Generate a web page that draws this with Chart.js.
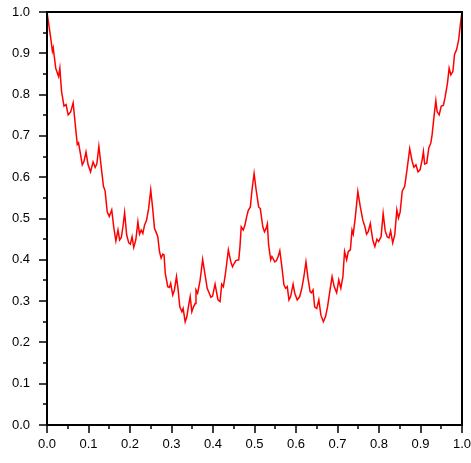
<!DOCTYPE html>
<html lang="en">
<head>
    <meta charset="UTF-8">
    <title>Curve</title>
    <script src="https://cdn.jsdelivr.net/npm/chart.js@4"></script>
    <style>
        html, body {
            margin: 0;
            padding: 0;
            background: #fff;
        }
        #wrap {
            width: 471px;
            height: 463px;
        }
    </style>
</head>
<body>
    <div id="wrap"><canvas id="curve"></canvas></div>

    <script>
        // values
        const xs = [
            0.000, 0.009, 0.013, 0.015, 0.021, 0.025, 0.028, 0.031, 0.035, 0.041,
            0.046, 0.051, 0.057, 0.063, 0.069, 0.073, 0.076, 0.081, 0.085, 0.089,
            0.094, 0.099, 0.105, 0.111, 0.116, 0.120, 0.125, 0.131, 0.136, 0.140,
            0.145, 0.150, 0.156, 0.161, 0.166, 0.171, 0.175, 0.179, 0.183, 0.187,
            0.192, 0.197, 0.201, 0.205, 0.209, 0.214, 0.219, 0.223, 0.227, 0.231,
            0.235, 0.240, 0.245, 0.250, 0.255, 0.259, 0.264, 0.267, 0.271, 0.275,
            0.279, 0.282, 0.285, 0.291, 0.295, 0.298, 0.303, 0.307, 0.312, 0.316,
            0.320, 0.325, 0.328, 0.333, 0.337, 0.340, 0.345, 0.349, 0.353, 0.357,
            0.359, 0.363, 0.369, 0.375, 0.381, 0.386, 0.391, 0.395, 0.399, 0.405,
            0.409, 0.412, 0.417, 0.421, 0.425, 0.429, 0.433, 0.437, 0.443, 0.447,
            0.451, 0.455, 0.462, 0.465, 0.468, 0.473, 0.477, 0.481, 0.485, 0.490,
            0.494, 0.499, 0.504, 0.510, 0.514, 0.520, 0.524, 0.528, 0.531, 0.534,
            0.539, 0.542, 0.549, 0.553, 0.557, 0.561, 0.566, 0.571, 0.575, 0.579,
            0.583, 0.587, 0.593, 0.597, 0.603, 0.609, 0.614, 0.619, 0.624, 0.629,
            0.634, 0.637, 0.641, 0.645, 0.650, 0.655, 0.660, 0.666, 0.671, 0.676,
            0.682, 0.687, 0.692, 0.698, 0.703, 0.708, 0.713, 0.717, 0.722, 0.726,
            0.731, 0.735, 0.738, 0.743, 0.749, 0.755, 0.761, 0.766, 0.770, 0.774,
            0.779, 0.785, 0.790, 0.795, 0.799, 0.805, 0.810, 0.815, 0.820, 0.824,
            0.828, 0.833, 0.838, 0.843, 0.847, 0.851, 0.856, 0.862, 0.868, 0.874,
            0.880, 0.884, 0.889, 0.894, 0.899, 0.904, 0.907, 0.910, 0.915, 0.920,
            0.925, 0.928, 0.933, 0.937, 0.940, 0.945, 0.950, 0.955, 0.959, 0.965,
            0.969, 0.973, 0.978, 0.982, 0.987, 0.992, 0.997, 1.000
        ];
        const ys = [
            1.000, 0.937, 0.905, 0.913, 0.864, 0.852, 0.844, 0.864, 0.808, 0.772,
            0.776, 0.751, 0.758, 0.780, 0.719, 0.679, 0.683, 0.654, 0.630, 0.638,
            0.661, 0.630, 0.613, 0.637, 0.624, 0.632, 0.675, 0.622, 0.578, 0.567,
            0.517, 0.505, 0.521, 0.478, 0.446, 0.472, 0.448, 0.454, 0.480, 0.514,
            0.460, 0.441, 0.438, 0.456, 0.430, 0.448, 0.492, 0.462, 0.472, 0.464,
            0.484, 0.496, 0.525, 0.569, 0.521, 0.476, 0.464, 0.456, 0.420, 0.404,
            0.414, 0.412, 0.367, 0.335, 0.333, 0.343, 0.315, 0.327, 0.359, 0.327,
            0.286, 0.274, 0.282, 0.250, 0.262, 0.282, 0.311, 0.274, 0.286, 0.294,
            0.327, 0.319, 0.351, 0.401, 0.363, 0.331, 0.319, 0.309, 0.312, 0.341,
            0.319, 0.303, 0.299, 0.341, 0.335, 0.359, 0.391, 0.424, 0.395, 0.383,
            0.391, 0.398, 0.400, 0.432, 0.480, 0.472, 0.484, 0.504, 0.520, 0.528,
            0.569, 0.609, 0.569, 0.528, 0.524, 0.480, 0.468, 0.476, 0.487, 0.436,
            0.400, 0.408, 0.395, 0.398, 0.408, 0.422, 0.383, 0.339, 0.331, 0.335,
            0.303, 0.311, 0.341, 0.319, 0.303, 0.311, 0.331, 0.359, 0.395, 0.355,
            0.323, 0.320, 0.327, 0.286, 0.282, 0.303, 0.266, 0.250, 0.262, 0.286,
            0.327, 0.359, 0.335, 0.320, 0.351, 0.331, 0.359, 0.420, 0.400, 0.420,
            0.424, 0.472, 0.462, 0.504, 0.565, 0.528, 0.496, 0.480, 0.462, 0.468,
            0.488, 0.448, 0.432, 0.450, 0.444, 0.456, 0.512, 0.470, 0.455, 0.453,
            0.470, 0.441, 0.461, 0.521, 0.501, 0.516, 0.566, 0.578, 0.622, 0.669,
            0.638, 0.624, 0.630, 0.613, 0.618, 0.642, 0.662, 0.632, 0.634, 0.671,
            0.683, 0.703, 0.751, 0.785, 0.759, 0.751, 0.772, 0.774, 0.792, 0.828,
            0.864, 0.848, 0.856, 0.897, 0.909, 0.933, 0.978, 1.000
        ];
        const tickValues = [0, 0.1, 0.2, 0.3, 0.4, 0.5, 0.6, 0.7, 0.8, 0.9, 1.0];

        const points = xs.map((x, i) => ({ x: x, y: ys[i] }));

        // frame round the plot plus major/minor tick marks on both axes
        const frameAndTicks = {
            id: 'frameAndTicks',
            afterDraw(chart) {
                const ctx = chart.ctx;
                const a = chart.chartArea;
                const sx = chart.scales.x;
                const sy = chart.scales.y;
                ctx.save();
                ctx.strokeStyle = '#000';
                ctx.lineWidth = 2;
                ctx.strokeRect(a.left, a.top, a.right - a.left, a.bottom - a.top);
                ctx.lineWidth = 1.5;
                ctx.beginPath();
                for (let i = 0; i <= 20; i++) {
                    const v = i * 0.05;
                    const len = i % 2 ? 4 : 8;
                    const px = Math.round(sx.getPixelForValue(v));
                    ctx.moveTo(px, a.bottom);
                    ctx.lineTo(px, a.bottom + len);
                    const py = Math.round(sy.getPixelForValue(v));
                    ctx.moveTo(a.left, py);
                    ctx.lineTo(a.left - len, py);
                }
                ctx.stroke();
                ctx.restore();
            }
        };

        new Chart(document.getElementById('curve'), {
            type: 'line',
            data: {
                datasets: [{
                    data: points,
                    borderColor: '#ff0000',
                    borderWidth: 1.5,
                    pointRadius: 0,
                    tension: 0,
                    fill: false
                }]
            },
            options: {
                responsive: true,
                maintainAspectRatio: false,
                animation: false,
                layout: {
                    padding: { top: 12, right: 9, left: 0, bottom: 0 }
                },
                plugins: {
                    legend: { display: false },
                    tooltip: { enabled: false }
                },
                scales: {
                    x: {
                        type: 'linear',
                        min: 0,
                        max: 1,
                        afterFit: s => {
                            s.height = 38;
                            s.paddingLeft = 0;
                            s.paddingRight = 0;
                        },
                        afterBuildTicks: s => { s.ticks = tickValues.map(v => ({ value: v })); },
                        grid: { display: false, drawTicks: false },
                        border: { display: false },
                        ticks: {
                            padding: 12,
                            color: '#000',
                            maxRotation: 0,
                            font: { family: 'Liberation Sans, Arial, sans-serif', size: 13 },
                            callback: v => v.toFixed(1)
                        }
                    },
                    y: {
                        min: 0,
                        max: 1,
                        afterFit: s => {
                            s.width = 47;
                            s.paddingTop = 0;
                            s.paddingBottom = 0;
                        },
                        afterBuildTicks: s => { s.ticks = tickValues.map(v => ({ value: v })); },
                        grid: { display: false, drawTicks: false },
                        border: { display: false },
                        ticks: {
                            padding: 17,
                            color: '#000',
                            font: { family: 'Liberation Sans, Arial, sans-serif', size: 13 },
                            callback: v => v.toFixed(1)
                        }
                    }
                }
            },
            plugins: [frameAndTicks]
        });
    </script>
</body>
</html>
